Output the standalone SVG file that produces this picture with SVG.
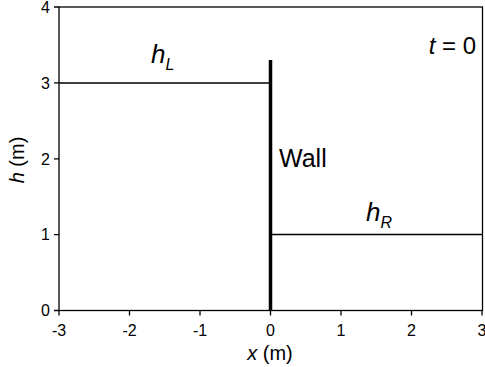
<svg xmlns="http://www.w3.org/2000/svg" width="485" height="367" viewBox="0 0 485 367">
<style>
text{font-family:"Liberation Sans",Arial,sans-serif;fill:#000}
.tk{font-size:16px}
.ax{stroke:#000;stroke-width:1.3;fill:none}
.ln{stroke:#000;stroke-width:1.5;fill:none}
</style>
<rect width="485" height="367" fill="#fff"/>
<g id="axes">
<rect class="ax" x="59" y="7" width="423.5" height="303.5"/>
<path class="ax" d="M59 310.5v5M129.5 310.5v5M200 310.5v5M270.5 310.5v5M341 310.5v5M411.5 310.5v5M482 310.5v5M59 7h-5M59 82.9h-5M59 158.8h-5M59 234.6h-5M59 310.5h-5"/>
<g class="tk" text-anchor="middle">
<text x="59" y="336">-3</text><text x="129.5" y="336">-2</text><text x="200" y="336">-1</text><text x="270.5" y="336">0</text><text x="341" y="336">1</text><text x="411.5" y="336">2</text><text x="482" y="336">3</text>
</g>
<g class="tk" text-anchor="end">
<text x="50" y="12.5">4</text><text x="50" y="88.5">3</text><text x="50" y="164.5">2</text><text x="50" y="240">1</text><text x="50" y="316">0</text>
</g>
<text x="270" y="360" font-size="20" text-anchor="middle"><tspan font-style="italic">x</tspan> (m)</text>
<text transform="translate(24 160) rotate(-90)" font-size="20" text-anchor="middle"><tspan font-style="italic">h</tspan> (m)</text>
</g>
<g id="connectors">
<path class="ln" d="M59 82.9H270.5"/>
<path class="ln" d="M270.5 234.6H482"/>
</g>
<g id="wall">
<path d="M270.5 60V310.5" stroke="#000" stroke-width="3.5"/>
<text x="279" y="167" font-size="25">Wall</text>
</g>
<g id="hL"><text x="151" y="63" font-size="26" font-style="italic">h<tspan font-size="16" dy="7">L</tspan></text></g>
<g id="hR"><text x="366" y="221" font-size="26" font-style="italic">h<tspan font-size="16" dy="7">R</tspan></text></g>
<g id="t0"><text x="476" y="54" font-size="24" text-anchor="end"><tspan font-style="italic">t</tspan> = 0</text></g>
</svg>
